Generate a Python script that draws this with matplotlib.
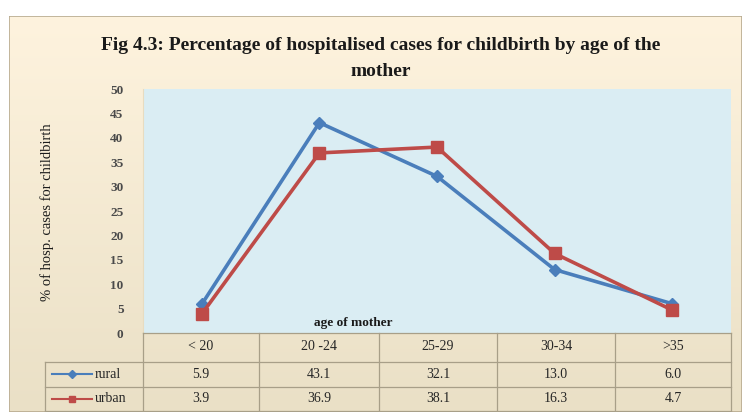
import numpy as np
import matplotlib.pyplot as plt
from matplotlib.lines import Line2D
from matplotlib.patches import Rectangle

# data
ages = ['< 20', '20 -24', '25-29', '30-34', '>35']
rural = [5.9, 43.1, 32.1, 13.0, 6.0]
urban = [3.9, 36.9, 38.1, 16.3, 4.7]
rural_lbl = ['5.9', '43.1', '32.1', '13.0', '6.0']
urban_lbl = ['3.9', '36.9', '38.1', '16.3', '4.7']
yticks = [0, 5, 10, 15, 20, 25, 30, 35, 40, 45, 50]

W, H = 742, 412
fig = plt.figure(figsize=(W / 100, H / 100), dpi=100)
fig.patch.set_facecolor('white')
serif = ['Liberation Serif', 'DejaVu Serif']

def fx(px):
    return px / W

def fy(py):
    return 1 - py / H

# parchment-like background, lighter at the top
bg = fig.add_axes([fx(9), fy(412), fx(742 - 9), (412 - 16) / H])
bg.set_axis_off()
top = np.array([254, 243, 222]) / 255
bot = np.array([234, 224, 198]) / 255
t = np.linspace(0, 1, 200)[:, None, None]
grad = top * (1 - t) + bot * t
bg.imshow(grad, aspect='auto', extent=[0, 1, 1, 0], origin='upper')
bg.set_xlim(0, 1)
bg.set_ylim(1, 0)
bg.add_patch(Rectangle((0, 0), 1, 1, fill=False, edgecolor='#b8ab90', lw=1.2))

# plot area
left, right, ptop, pbot = 143, 731, 89, 333
ax = fig.add_axes([fx(left), fy(pbot), fx(right - left), (pbot - ptop) / H])
ax.set_facecolor('#daedf3')
ax.plot(range(5), rural, color='#4a7ebb', lw=2.6, marker='D', ms=6, zorder=3)
ax.plot(range(5), urban, color='#be4b48', lw=2.6, marker='s', ms=9, zorder=3)
ax.set_xlim(-0.5, 4.5)
ax.set_ylim(0, 50)
ax.set_yticks(yticks)
ax.set_yticklabels([str(v) for v in yticks], family=serif, fontsize=9.5,
                   fontweight='bold', color='#4a4a4a')
ax.tick_params(axis='y', length=0, pad=14)
ax.set_xticks([])
for s in ax.spines.values():
    s.set_visible(False)
ax.spines['left'].set_visible(True)
ax.spines['left'].set_color('#e8dcc0')

fig.text(fx(353), fy(323), 'age of mother', family=serif, fontsize=9.5, fontweight='bold',
         color='#1a1a1a', ha='center', va='center')
fig.text(fx(47), fy(212), '% of hosp. cases for childbirth', family=serif, fontsize=10.5,
         color='#1a1a1a', rotation=90, ha='center', va='center')

fig.text(fx(381), fy(45), 'Fig 4.3: Percentage of hospitalised cases for childbirth by age of the',
         family=serif, fontsize=14, fontweight='bold', ha='center', va='center', color='#1a1a1a')
fig.text(fx(381), fy(71), 'mother', family=serif, fontsize=14, fontweight='bold',
         ha='center', va='center', color='#1a1a1a')

# data table below the plot
cols = [143, 259, 379, 497, 615, 731]
rows = [333, 362, 387, 411]
lc = '#a89f88'
for x in cols:
    fig.add_artist(Line2D([fx(x), fx(x)], [fy(333), fy(411)], color=lc, lw=0.9))
fig.add_artist(Line2D([fx(45), fx(45)], [fy(362), fy(411)], color=lc, lw=0.9))
fig.add_artist(Line2D([fx(143), fx(731)], [fy(333), fy(333)], color=lc, lw=0.9))
for y in rows[1:]:
    fig.add_artist(Line2D([fx(45), fx(731)], [fy(y), fy(y)], color=lc, lw=0.9))

for i, a in enumerate(ages):
    cx = (cols[i] + cols[i + 1]) / 2
    fig.text(fx(cx), fy(347), a, family=serif, fontsize=10, ha='center', va='center', color='#262626')
    fig.text(fx(cx), fy(374), rural_lbl[i], family=serif, fontsize=10, ha='center', va='center', color='#262626')
    fig.text(fx(cx), fy(399), urban_lbl[i], family=serif, fontsize=10, ha='center', va='center', color='#262626')

fig.add_artist(Line2D([fx(52), fx(92)], [fy(374), fy(374)], color='#4a7ebb', lw=1.5))
fig.add_artist(Line2D([fx(72)], [fy(374)], color='#4a7ebb', marker='D', ms=4))
fig.add_artist(Line2D([fx(52), fx(92)], [fy(399), fy(399)], color='#be4b48', lw=1.5))
fig.add_artist(Line2D([fx(72)], [fy(399)], color='#be4b48', marker='s', ms=5))
fig.text(fx(95), fy(374), 'rural', family=serif, fontsize=10, ha='left', va='center', color='#262626')
fig.text(fx(95), fy(399), 'urban', family=serif, fontsize=10, ha='left', va='center', color='#262626')

fig.savefig('out.png', dpi=100, facecolor=fig.get_facecolor())
